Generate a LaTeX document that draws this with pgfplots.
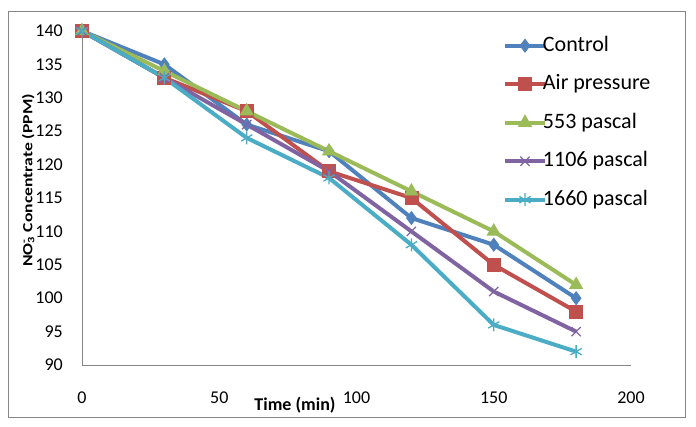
\documentclass[border=0pt]{standalone}
\usepackage{graphicx}
\usepackage{pgfplots}
\pgfplotsset{compat=1.18}
\usepackage{fontspec}
\setmainfont{Carlito}
\definecolor{cBlue}{HTML}{4F81BD}
\definecolor{cRed}{HTML}{C0504D}
\definecolor{cGreen}{HTML}{9BBB59}
\definecolor{cPurple}{HTML}{8064A2}
\definecolor{cCyan}{HTML}{4BACC6}
\definecolor{cAxis}{HTML}{868686}
\begin{document}
\begin{tikzpicture}[x=1bp,y=1bp]
\useasboundingbox (0,0) rectangle (696,426);
\draw[cAxis, line width=1bp] (8,9) rectangle (685,414);
\begin{axis}[
  at={(82bp,61bp)}, anchor=south west,
  scale only axis, width=549bp, height=334bp,
  xmin=0, xmax=200, ymin=90, ymax=140,
  clip=false,
  axis x line*=bottom, axis y line*=left,
  axis line style={cAxis, line width=1bp},
  xtick={0,50,...,200}, ytick={90,95,...,140},
  major tick length=0pt,
  /pgf/number format/assume math mode=true,
  tick label style={font=\fontsize{18bp}{20bp}\selectfont, inner sep=0pt},
  yticklabel style={anchor=east, xshift=-19bp},
  xticklabel style={anchor=north, yshift=-27bp},
  xlabel={\bfseries Time (min)},
  xlabel style={at={(axis description cs:0.388,-0.12)}, anchor=center, font=\fontsize{18bp}{20bp}\selectfont},
  ylabel={\scalebox{1.26}[1]{\bfseries NO\rlap{\textsuperscript{-}}\textsubscript{3} Concentrate (PPM)}},
  ylabel style={at={(axis description cs:-0.0905,0.553)}, anchor=base, inner sep=0pt, font=\fontsize{14bp}{16bp}\selectfont},
  legend style={at={(axis description cs:0.761,0.994)}, anchor=north west, draw=none, fill=none,
    font=\fontsize{22bp}{24bp}\selectfont, row sep=17.5bp, column sep=-4bp,
    nodes={inner sep=0pt, text height=16bp, text depth=5bp}},
  legend cell align=left,
  legend image code/.code={\draw[mark repeat=2,mark phase=2,#1] plot coordinates {(0bp,0bp)(20bp,0bp)(40bp,0bp)};},
  every axis plot/.append style={line width=4bp},
]
\addplot[cBlue, mark=diamond*, mark size=6.5bp, mark options={solid, line width=0.8bp}] coordinates {
(0,140) (30,135) (60,126) (90,122) (120,112) (150,108) (180,100)};
\addlegendentry{Control}
\addplot[cRed, mark=square*, mark size=6.5bp, mark options={solid, line width=0.8bp}] coordinates {
(0,140) (30,133) (60,128) (90,119) (120,115) (150,105) (180,98)};
\addlegendentry{Air pressure}
\addplot[cGreen, mark=triangle*, mark size=7.5bp, mark options={solid, line width=0.8bp}] coordinates {
(0,140) (30,134) (60,128) (90,122) (120,116) (150,110) (180,102)};
\addlegendentry{553 pascal}
\addplot[cPurple, mark=x, mark size=6.5bp, mark options={solid, line width=1.3bp}] coordinates {
(0,140) (30,133) (60,126) (90,119) (120,110) (150,101) (180,95)};
\addlegendentry{1106 pascal}
\addplot[cCyan, mark=asterisk, mark size=6.5bp, mark options={solid, line width=1.3bp}] coordinates {
(0,140) (30,133) (60,124) (90,118) (120,108) (150,96) (180,92)};
\addlegendentry{1660 pascal}
\end{axis}
\end{tikzpicture}
\end{document}
